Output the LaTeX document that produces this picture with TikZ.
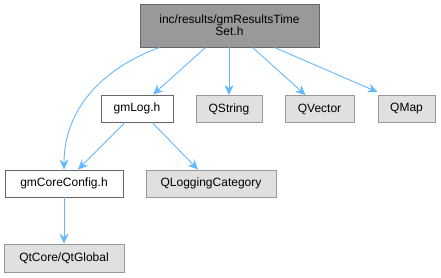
\documentclass[tikz,border=0pt]{standalone}
\usepackage{fontspec}
\setmainfont{Liberation Sans}
\usetikzlibrary{arrows.meta,positioning,calc}
\definecolor{edgeblue}{HTML}{63B8FF}
\definecolor{boxgray}{HTML}{E0E0E0}
\definecolor{topgray}{HTML}{999999}
\tikzset{
  filebox/.style={draw=black!60,fill=white,line width=.9pt,inner sep=0pt,
    minimum height=27pt,font=\fontsize{12}{14}\selectfont},
  extbox/.style={filebox,draw=topgray,fill=boxgray},
  dep/.style={->,draw=edgeblue,line width=.9pt}
}
\begin{document}
\begin{tikzpicture}[>={Stealth[length=10pt,width=9pt]},x=1pt,y=-1pt]
\useasboundingbox (0,0) rectangle (441,277);
\node[filebox,fill=topgray,draw=black!60,minimum width=179pt,minimum height=43pt,align=center] (top) at (229.5,25.5) {inc/results/gmResultsTime\\[-2pt]Set.h};
\node[filebox,minimum width=72pt] (log) at (137,108.5) {gmLog.h};
\node[extbox,minimum width=66pt] (qstr) at (229,109) {QString};
\node[extbox,minimum width=69pt] (qvec) at (319.5,109) {QVector};
\node[extbox,minimum width=57pt] (qmap) at (406.5,109) {QMap};
\node[filebox,minimum width=118pt] (core) at (64,183.5) {gmCoreConfig.h};
\node[extbox,minimum width=130pt] (qcat) at (211,183.5) {QLoggingCategory};
\node[extbox,minimum width=120pt,minimum height=28pt] (qglob) at (64,258) {QtCore/QtGlobal};
% edges from the header
\draw[dep] ($(top.south west)+(20,0)$) to[out=200,in=90] (core.north);
\draw[dep] ($(top.south west)+(66,0)$) -- ($(log.north)+(16,0)$);
\draw[dep] (top.south -| qstr.north) -- (qstr.north);
\draw[dep] ($(top.south west)+(113,0)$) -- ($(qvec.north)+(-14,0)$);
\draw[dep] ($(top.south west)+(135,0)$) -- ($(qmap.north west)+(0,-3)$);
\draw[dep] ($(log.south)+(-12,0)$) -- ($(core.north)+(14,0)$);
\draw[dep] ($(log.south)+(15,0)$) -- ($(qcat.north)+(-13,0)$);
\draw[dep] (core.south) -- (qglob.north);
\end{tikzpicture}
\end{document}
